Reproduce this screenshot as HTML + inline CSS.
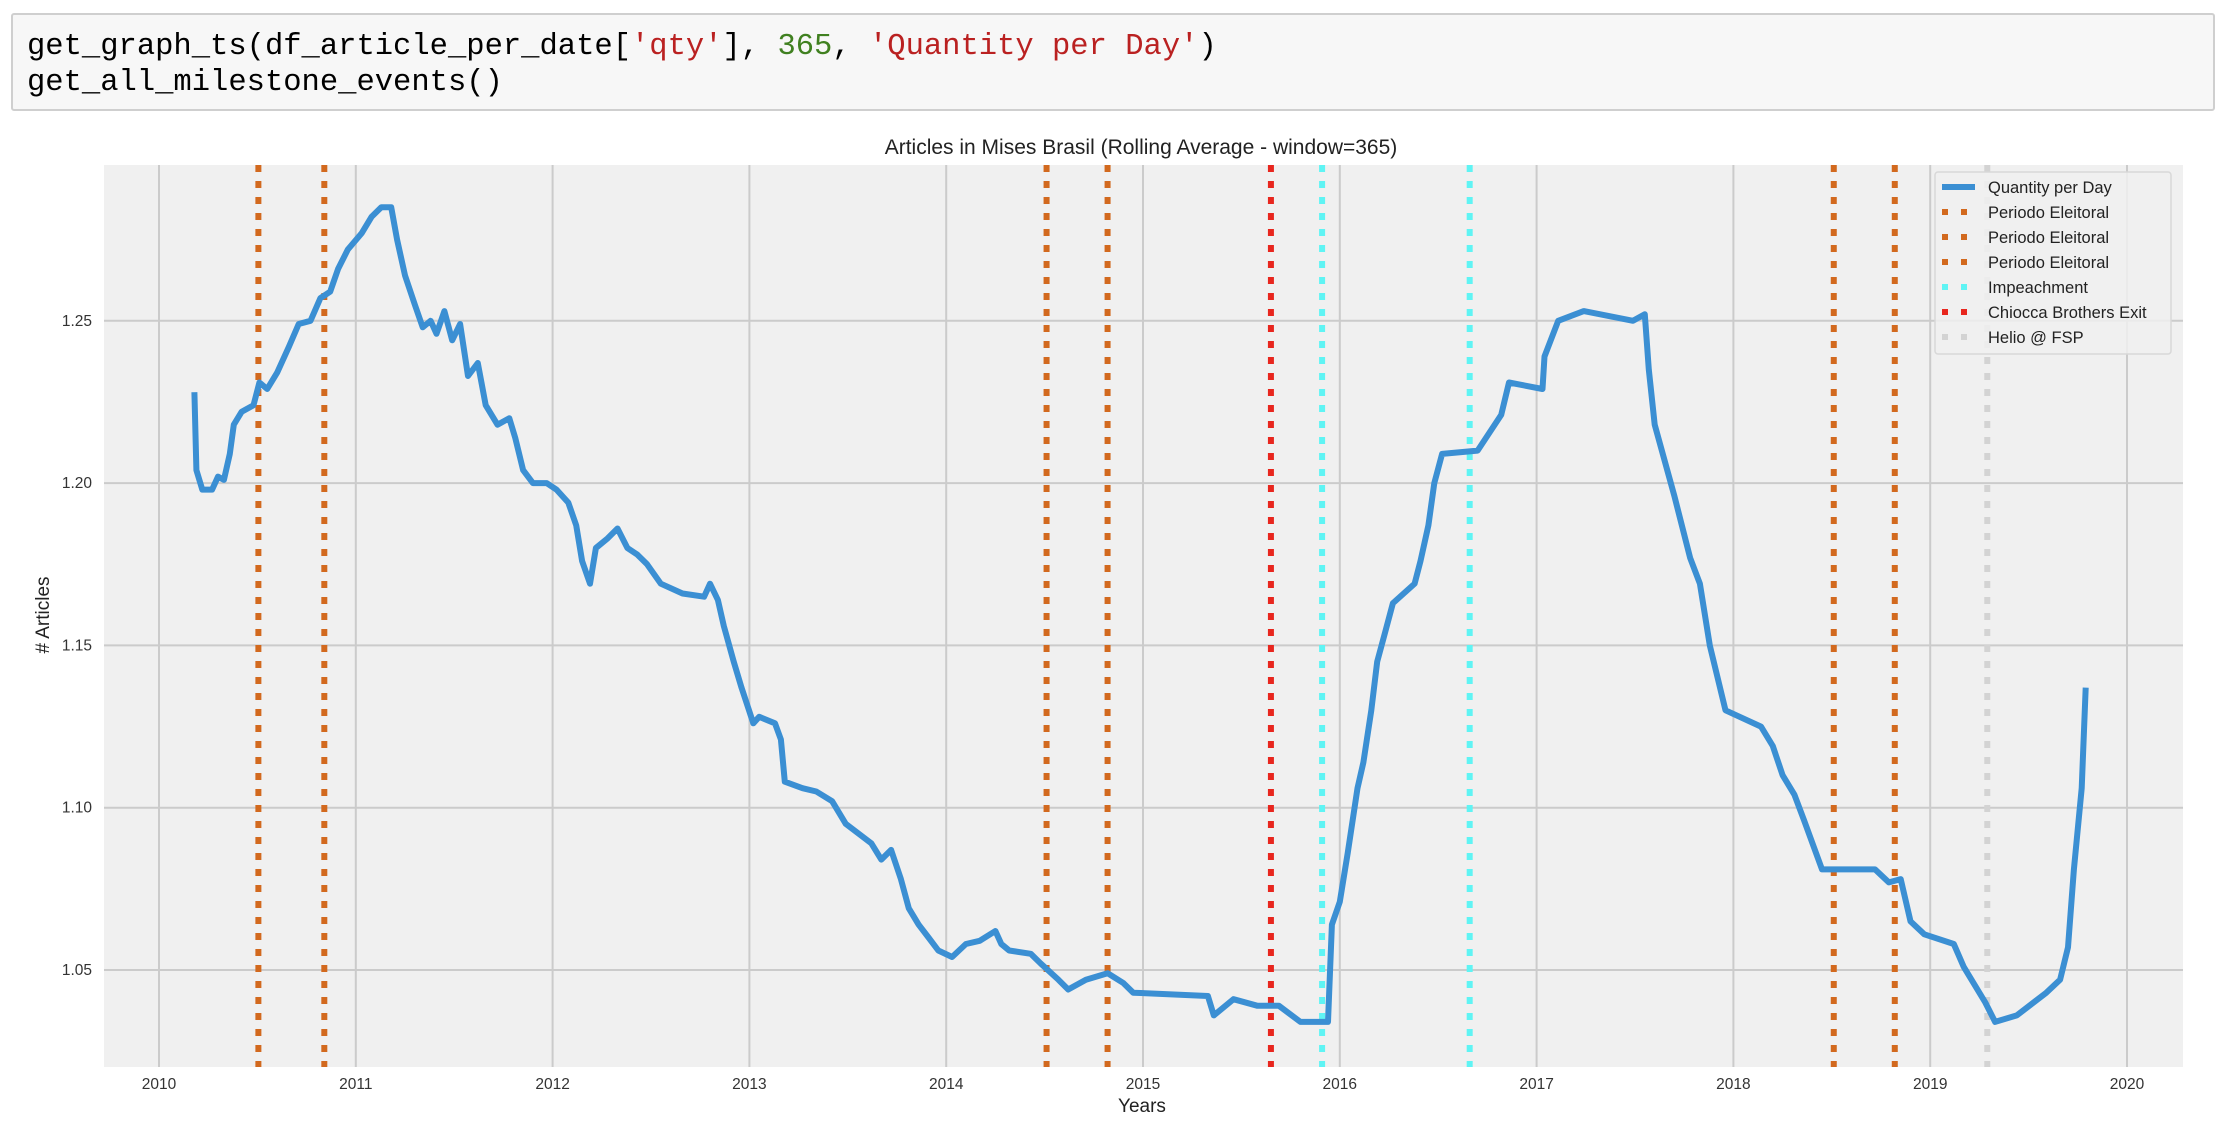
<!DOCTYPE html>
<html><head><meta charset="utf-8"><style>
body{margin:0;background:#fff;width:2228px;height:1122px;overflow:hidden;font-family:"Liberation Sans","DejaVu Sans",sans-serif}
#code{position:absolute;left:11px;top:13px;width:2204px;height:98px;background:#f7f7f7;border:2px solid #cfcfcf;border-radius:3px;box-sizing:border-box;font-family:"Liberation Mono",monospace;font-size:30.5px;line-height:36px;padding:14px 0 0 14px;color:#000;white-space:pre}
.s{color:#ba2121}.n{color:#408020}
svg{position:absolute;left:0;top:0}
</style></head><body>
<div id="code"><span>get_graph_ts(df_article_per_date[<span class="s">'qty'</span>], <span class="n">365</span>, <span class="s">'Quantity per Day'</span>)</span>
<span>get_all_milestone_events()</span></div>
<svg id="chart" width="2228" height="1122"></svg>
<script>
const years=[2010,2011,2012,2013,2014,2015,2016,2017,2018,2019,2020];
const yTicks=[1.05,1.10,1.15,1.20,1.25];
const dates=[2010.18,2010.19,2010.22,2010.27,2010.30,2010.33,2010.36,2010.38,2010.42,2010.48,2010.51,2010.55,2010.60,2010.66,2010.71,2010.77,2010.82,2010.87,2010.91,2010.96,2011.03,2011.08,2011.13,2011.18,2011.21,2011.25,2011.30,2011.34,2011.38,2011.41,2011.45,2011.49,2011.53,2011.57,2011.62,2011.66,2011.72,2011.78,2011.81,2011.85,2011.90,2011.97,2012.02,2012.08,2012.12,2012.15,2012.19,2012.22,2012.28,2012.33,2012.38,2012.43,2012.48,2012.55,2012.66,2012.77,2012.80,2012.84,2012.87,2012.92,2012.96,2013.02,2013.05,2013.13,2013.16,2013.18,2013.27,2013.34,2013.42,2013.49,2013.62,2013.67,2013.72,2013.77,2013.81,2013.86,2013.91,2013.96,2014.03,2014.10,2014.17,2014.25,2014.28,2014.32,2014.43,2014.48,2014.57,2014.62,2014.71,2014.82,2014.90,2014.95,2015.33,2015.36,2015.46,2015.58,2015.69,2015.80,2015.94,2015.96,2016.00,2016.04,2016.09,2016.12,2016.16,2016.19,2016.23,2016.27,2016.38,2016.41,2016.45,2016.48,2016.52,2016.70,2016.82,2016.86,2017.03,2017.04,2017.11,2017.24,2017.49,2017.55,2017.57,2017.60,2017.70,2017.78,2017.83,2017.88,2017.96,2018.14,2018.20,2018.25,2018.31,2018.36,2018.45,2018.72,2018.79,2018.85,2018.90,2018.97,2019.12,2019.17,2019.28,2019.33,2019.44,2019.59,2019.66,2019.70,2019.73,2019.77,2019.79];
const qty=[1.228,1.204,1.198,1.198,1.202,1.201,1.209,1.218,1.222,1.224,1.231,1.229,1.234,1.242,1.249,1.250,1.257,1.259,1.266,1.272,1.277,1.282,1.285,1.285,1.275,1.264,1.255,1.248,1.250,1.246,1.253,1.244,1.249,1.233,1.237,1.224,1.218,1.220,1.214,1.204,1.200,1.200,1.198,1.194,1.187,1.176,1.169,1.180,1.183,1.186,1.180,1.178,1.175,1.169,1.166,1.165,1.169,1.164,1.156,1.145,1.137,1.126,1.128,1.126,1.121,1.108,1.106,1.105,1.102,1.095,1.089,1.084,1.087,1.078,1.069,1.064,1.060,1.056,1.054,1.058,1.059,1.062,1.058,1.056,1.055,1.052,1.047,1.044,1.047,1.049,1.046,1.043,1.042,1.036,1.041,1.039,1.039,1.034,1.034,1.064,1.071,1.086,1.106,1.114,1.130,1.145,1.154,1.163,1.169,1.176,1.187,1.200,1.209,1.210,1.221,1.231,1.229,1.239,1.250,1.253,1.250,1.252,1.235,1.218,1.196,1.177,1.169,1.150,1.130,1.125,1.119,1.110,1.104,1.096,1.081,1.081,1.077,1.078,1.065,1.061,1.058,1.051,1.040,1.034,1.036,1.043,1.047,1.057,1.081,1.106,1.137];
const eventDates=[2010.505,2010.84,2014.51,2014.82,2015.65,2015.91,2016.66,2018.51,2018.82,2019.29];
const eventTypes=['elec','elec','elec','elec','chiocca','imp','imp','elec','elec','helio'];
const legendLabels=['Quantity per Day','Periodo Eleitoral','Periodo Eleitoral','Periodo Eleitoral','Impeachment','Chiocca Brothers Exit','Helio @ FSP'];
const legendTypes=['line','elec','elec','elec','imp','chiocca','helio'];

const NS='http://www.w3.org/2000/svg';
const svg=document.getElementById('chart');
const L=104,R=2183,T=165,B=1067;
const X=y=>159+(y-2010)*196.8;
const Y=v=>970-(v-1.05)*3246;
const colors={elec:'#d2691e',imp:'#5ff4f4',chiocca:'#e8261e',helio:'#d3d3d3',line:'#3b8fd3'};
function mk(tag,attrs,parent){const e=document.createElementNS(NS,tag);for(const k in attrs)e.setAttribute(k,attrs[k]);(parent||svg).appendChild(e);return e;}

let t=mk('text',{x:1141,y:154,'text-anchor':'middle','font-size':21,fill:'#222'});
t.textContent='Articles in Mises Brasil (Rolling Average - window=365)';


let bg=mk('rect',{x:L,y:T,width:R-L,height:B-T,fill:'#f0f0f0'});


years.forEach(yr=>{
  const x=X(yr);
  const g=mk('line',{x1:x,x2:x,y1:T,y2:B,stroke:'#cbcbcb','stroke-width':2});
  
  
  const l=mk('text',{x:x,y:1089,'text-anchor':'middle','font-size':15.5,fill:'#333'});
  l.textContent=yr;
  
  
});
yTicks.forEach(v=>{
  const y=Y(v);
  const g=mk('line',{x1:L,x2:R,y1:y,y2:y,stroke:'#cbcbcb','stroke-width':2});
  
  
  const l=mk('text',{x:92,y:y+5,'text-anchor':'end','font-size':15.5,fill:'#333'});
  l.textContent=v.toFixed(2);
  
  
});
eventDates.forEach((d,i)=>{
  const x=X(d);
  const e=mk('line',{x1:x,x2:x,y1:T,y2:B,stroke:colors[eventTypes[i]],'stroke-width':6,'stroke-dasharray':'7,9'});
  
  
});
const pts=dates.map((d,i)=>X(d).toFixed(1)+','+Y(qty[i]).toFixed(1)).join(' ');
const pl=mk('polyline',{points:pts,fill:'none',stroke:colors.line,'stroke-width':6,'stroke-linejoin':'round'});



let xt=mk('text',{x:1142,y:1112,'text-anchor':'middle','font-size':19,fill:'#222'});
xt.textContent='Years';


let yt=mk('text',{x:0,y:0,'text-anchor':'middle','font-size':19,fill:'#222',transform:'translate(49,615) rotate(-90)'});
yt.textContent='# Articles';



const lg=mk('g',{});


mk('rect',{x:1935,y:172,width:236,height:182,rx:3,fill:'#f0f0f0','fill-opacity':0.85,stroke:'#d8d8d8','stroke-width':1.5},lg);
legendLabels.forEach((lab,i)=>{
  const y=187+i*25;
  const typ=legendTypes[i];
  if(typ==='line){'){}
  if(typ==='line'){
    const s=mk('line',{x1:1942,x2:1975,y1:y,y2:y,stroke:colors.line,'stroke-width':6},lg);
    
    
  } else {
    const s=mk('line',{x1:1942,x2:1975,y1:y,y2:y,stroke:colors[typ],'stroke-width':6,'stroke-dasharray':'6,13'},lg);
    
    
  }
  const tx=mk('text',{x:1988,y:y+6,'font-size':16.5,fill:'#222'},lg);
  tx.textContent=lab;
  
  
});
</script>
</body></html>
